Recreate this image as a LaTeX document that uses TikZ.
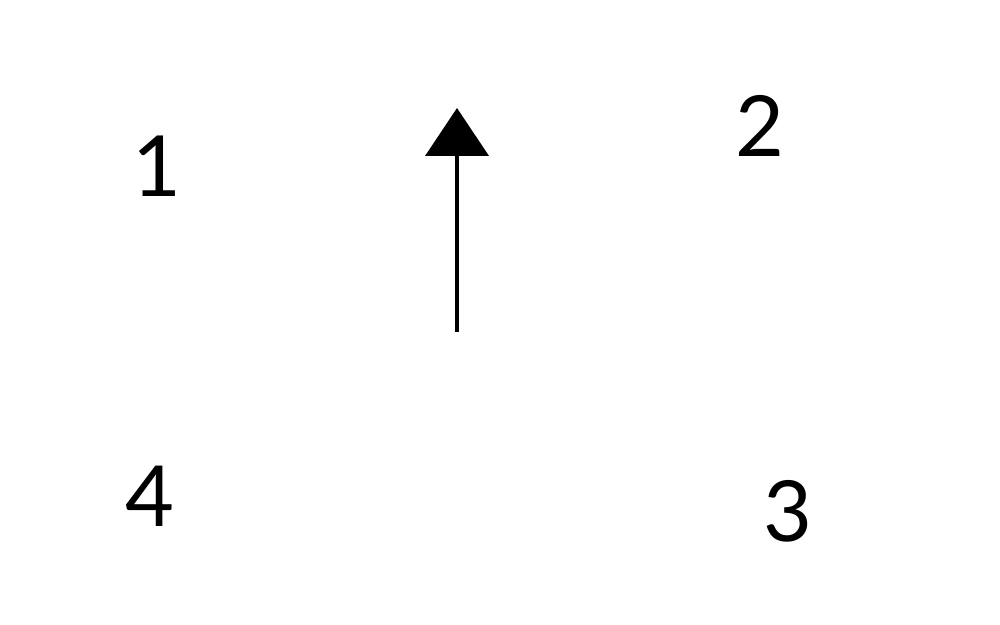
\documentclass[tikz,border=0pt]{standalone}
\usepackage{fontspec}
\newfontfamily\digitfont{Lato}
\usetikzlibrary{arrows.meta}
\begin{document}
\begin{tikzpicture}[x=0.02cm,y=-0.02cm,
  digit/.style={anchor=base,inner sep=0pt,font=\digitfont\fontsize{48}{52}\selectfont},
  uparrow/.style={line width=0.085cm,-{Triangle[width=1.26cm,length=0.96cm]}}]
\useasboundingbox (0,0) rectangle (1000,625);
\node[digit] (n1) at (157,196) {1};
\node[digit] (n2) at (760,156) {2};
\node[digit] (n3) at (788,541) {3};
\node[digit] (n4) at (150,526) {4};
\coordinate (tail) at (457,332);
\coordinate (head) at (457,108);
\draw[uparrow] (tail) -- (head);
\end{tikzpicture}
\end{document}
